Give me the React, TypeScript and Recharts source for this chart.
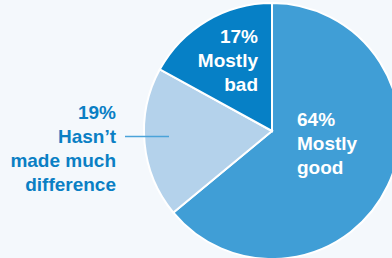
import React from 'react';
import { PieChart, Pie, Cell } from 'recharts';

const slices = ['Mostly good', "Hasn't made much difference", 'Mostly bad'];
const shares = [64, 19, 17];
const sliceColors = ['#409ed6', '#b4d2eb', '#0680c6'];

// label lines per slice, first line is the share
const labelLines = [
  ['64%', 'Mostly', 'good'],
  ['19%', 'Hasn\u2019t', 'made much', 'difference'],
  ['17%', 'Mostly', 'bad'],
];

const data = slices.map((name, i) => ({ name, value: shares[i] }));

const FONT = '"Liberation Sans", Arial, sans-serif';

const renderLabel = (props: any) => {
  const { index, cx, cy } = props;
  const lines = labelLines[index];
  if (index === 0) {
    return (
      <text key="l0" x={cx + 25} y={cy - 5} fill="#fff" fontFamily={FONT} fontWeight={700} fontSize={19}>
        {lines.map((t, i) => (
          <tspan key={i} x={cx + 25} y={cy - 5 + i * 24}>{t}</tspan>
        ))}
      </text>
    );
  }
  if (index === 2) {
    return (
      <text key="l2" x={cx - 14} y={cy - 88} fill="#fff" fontFamily={FONT} fontWeight={700} fontSize={19} textAnchor="end">
        {lines.map((t, i) => (
          <tspan key={i} x={cx - 14} y={cy - 88 + i * 24}>{t}</tspan>
        ))}
      </text>
    );
  }
  return (
    <g key="l1">
      <line x1={cx - 147} x2={cx - 103} y1={cy + 5.5} y2={cy + 5.5} stroke="#4aa3d9" strokeWidth={1.5} />
      <text x={cx - 156} y={cy - 12} fill="#0a7fc4" fontFamily={FONT} fontWeight={700} fontSize={19} textAnchor="end">
        {lines.map((t, i) => (
          <tspan key={i} x={cx - 156} y={cy - 12 + i * 24}>{t}</tspan>
        ))}
      </text>
    </g>
  );
};

export default function App() {
  return (
    <div style={{ position: 'fixed', left: 0, top: 0, width: 392, height: 258, background: '#f4f8fc', overflow: 'hidden' }}>
      <PieChart width={392} height={258} margin={{ top: 0, right: 0, bottom: 0, left: 0 }}>
        <Pie
          data={data}
          dataKey="value"
          nameKey="name"
          cx={272}
          cy={131}
          outerRadius={128}
          startAngle={90}
          endAngle={-270}
          stroke="#ffffff"
          strokeWidth={2}
          label={renderLabel}
          labelLine={false}
          isAnimationActive={false}
        >
          {data.map((d, i) => (
            <Cell key={d.name} fill={sliceColors[i]} />
          ))}
        </Pie>
      </PieChart>
    </div>
  );
}
